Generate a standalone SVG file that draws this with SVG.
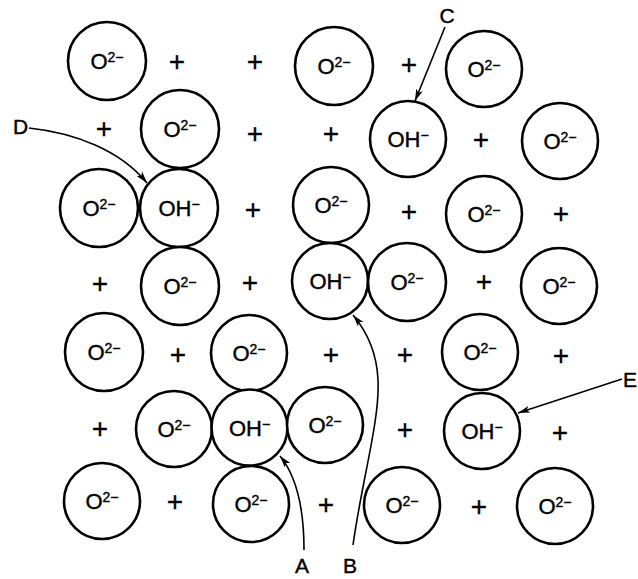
<svg xmlns="http://www.w3.org/2000/svg" width="638" height="579" viewBox="0 0 638 579">
<defs>
<style>
.ion{fill:#fff;stroke:#000;stroke-width:2.6}
.t{font-family:"Liberation Sans",Arial,sans-serif;font-size:22px;fill:#000;stroke:#000;stroke-width:0.4;text-anchor:middle}
.sup{font-size:14px}
.p{font-family:"Liberation Sans",Arial,sans-serif;font-size:28px;fill:#000;stroke:#000;stroke-width:0.3;text-anchor:middle}
.lbl{font-family:"Liberation Sans",Arial,sans-serif;font-size:21px;fill:#000;stroke:#000;stroke-width:0.4}
.arr{fill:none;stroke:#000;stroke-width:1.6;marker-end:url(#ah)}
</style>
<marker id="ah" markerUnits="userSpaceOnUse" markerWidth="13" markerHeight="8" refX="12" refY="4" orient="auto">
<path d="M0,0.5 L12,4 L0,7.5 L3,4 z" fill="#000"/>
</marker>
</defs>
<rect width="638" height="579" fill="#fff"/>

<!-- Row 1 -->
<g id="o_r1_1"><circle class="ion" cx="107" cy="61" r="39"/><text class="t" x="107" y="69">O<tspan class="sup" dy="-7">2−</tspan></text></g>
<g id="o_r1_2"><circle class="ion" cx="334" cy="66" r="39"/><text class="t" x="334" y="74">O<tspan class="sup" dy="-7">2−</tspan></text></g>
<g id="o_r1_3"><circle class="ion" cx="484" cy="69" r="38"/><text class="t" x="484" y="77">O<tspan class="sup" dy="-7">2−</tspan></text></g>
<!-- Row 2 -->
<g id="o_r2_1"><circle class="ion" cx="180" cy="129" r="39"/><text class="t" x="180" y="137">O<tspan class="sup" dy="-7">2−</tspan></text></g>
<g id="oh_C"><circle class="ion" cx="408" cy="139" r="38"/><text class="t" x="408" y="147">OH<tspan class="sup" dy="-7">−</tspan></text></g>
<g id="o_r2_2"><circle class="ion" cx="560" cy="141" r="38"/><text class="t" x="560" y="149">O<tspan class="sup" dy="-7">2−</tspan></text></g>
<!-- Row 3 -->
<g id="o_r3_1"><circle class="ion" cx="99" cy="208" r="39"/><text class="t" x="99" y="216">O<tspan class="sup" dy="-7">2−</tspan></text></g>
<g id="oh_D"><circle class="ion" cx="179" cy="208" r="39"/><text class="t" x="179" y="216">OH<tspan class="sup" dy="-7">−</tspan></text></g>
<g id="o_r3_2"><circle class="ion" cx="331" cy="205" r="38"/><text class="t" x="331" y="213">O<tspan class="sup" dy="-7">2−</tspan></text></g>
<g id="o_r3_3"><circle class="ion" cx="484" cy="214" r="38"/><text class="t" x="484" y="222">O<tspan class="sup" dy="-7">2−</tspan></text></g>
<!-- Row 4 -->
<g id="o_r4_1"><circle class="ion" cx="180" cy="286" r="39"/><text class="t" x="180" y="294">O<tspan class="sup" dy="-7">2−</tspan></text></g>
<g id="oh_B"><circle class="ion" cx="330" cy="281" r="38"/><text class="t" x="330" y="289">OH<tspan class="sup" dy="-7">−</tspan></text></g>
<g id="o_r4_2"><circle class="ion" cx="407" cy="282" r="39"/><text class="t" x="407" y="290">O<tspan class="sup" dy="-7">2−</tspan></text></g>
<g id="o_r4_3"><circle class="ion" cx="559" cy="286" r="38"/><text class="t" x="559" y="294">O<tspan class="sup" dy="-7">2−</tspan></text></g>
<!-- Row 5 -->
<g id="o_r5_1"><circle class="ion" cx="104" cy="352" r="39"/><text class="t" x="104" y="360">O<tspan class="sup" dy="-7">2−</tspan></text></g>
<g id="o_r5_2"><circle class="ion" cx="249" cy="353" r="38"/><text class="t" x="249" y="361">O<tspan class="sup" dy="-7">2−</tspan></text></g>
<g id="o_r5_3"><circle class="ion" cx="480" cy="352" r="38"/><text class="t" x="480" y="360">O<tspan class="sup" dy="-7">2−</tspan></text></g>
<!-- Row 6 -->
<g id="o_r6_1"><circle class="ion" cx="174" cy="429" r="38"/><text class="t" x="174" y="437">O<tspan class="sup" dy="-7">2−</tspan></text></g>
<g id="oh_A"><circle class="ion" cx="249.5" cy="427.5" r="38"/><text class="t" x="249.5" y="435.5">OH<tspan class="sup" dy="-7">−</tspan></text></g>
<g id="o_r6_2"><circle class="ion" cx="325" cy="425" r="38"/><text class="t" x="325" y="433">O<tspan class="sup" dy="-7">2−</tspan></text></g>
<g id="oh_E"><circle class="ion" cx="482" cy="431" r="38"/><text class="t" x="482" y="439">OH<tspan class="sup" dy="-7">−</tspan></text></g>
<!-- Row 7 -->
<g id="o_r7_1"><circle class="ion" cx="102" cy="501" r="38"/><text class="t" x="102" y="509">O<tspan class="sup" dy="-7">2−</tspan></text></g>
<g id="o_r7_2"><circle class="ion" cx="251" cy="504" r="38"/><text class="t" x="251" y="512">O<tspan class="sup" dy="-7">2−</tspan></text></g>
<g id="o_r7_3"><circle class="ion" cx="402" cy="505" r="38"/><text class="t" x="402" y="513">O<tspan class="sup" dy="-7">2−</tspan></text></g>
<g id="o_r7_4"><circle class="ion" cx="555" cy="506" r="38"/><text class="t" x="555" y="514">O<tspan class="sup" dy="-7">2−</tspan></text></g>

<!-- Cations (+) -->
<g id="cations">
<text class="p" x="177" y="71">+</text>
<text class="p" x="255" y="71">+</text>
<text class="p" x="409" y="74">+</text>
<text class="p" x="104" y="138">+</text>
<text class="p" x="255" y="143">+</text>
<text class="p" x="331" y="143">+</text>
<text class="p" x="481" y="149">+</text>
<text class="p" x="253" y="219">+</text>
<text class="p" x="409" y="221">+</text>
<text class="p" x="561" y="223">+</text>
<text class="p" x="100" y="293">+</text>
<text class="p" x="250" y="292">+</text>
<text class="p" x="484" y="291">+</text>
<text class="p" x="178" y="364">+</text>
<text class="p" x="331" y="364">+</text>
<text class="p" x="405" y="364">+</text>
<text class="p" x="561" y="365">+</text>
<text class="p" x="100" y="438">+</text>
<text class="p" x="405" y="439">+</text>
<text class="p" x="560" y="442">+</text>
<text class="p" x="175" y="511">+</text>
<text class="p" x="326" y="514">+</text>
<text class="p" x="479" y="516">+</text>
</g>

<!-- Labels -->
<g id="label_A"><text class="lbl" x="302" y="573" text-anchor="middle">A</text></g>
<g id="label_B"><text class="lbl" x="350" y="573" text-anchor="middle">B</text></g>
<g id="label_C"><text class="lbl" x="447" y="23" text-anchor="middle">C</text></g>
<g id="label_D"><text class="lbl" x="13" y="134">D</text></g>
<g id="label_E"><text class="lbl" x="623" y="387">E</text></g>

<!-- Connectors -->
<g id="connectors">
<path class="arr" d="M445,27 L415,101"/>
<path class="arr" d="M29,128 C75,133 120,150 147,183"/>
<path class="arr" d="M622,379 L518,413"/>
<path class="arr" d="M304,550 C304,510 298,478 280,456"/>
<path class="arr" d="M353,545 C362,480 380,420 378,380 C377,355 368,333 353,315"/>
</g>
</svg>
